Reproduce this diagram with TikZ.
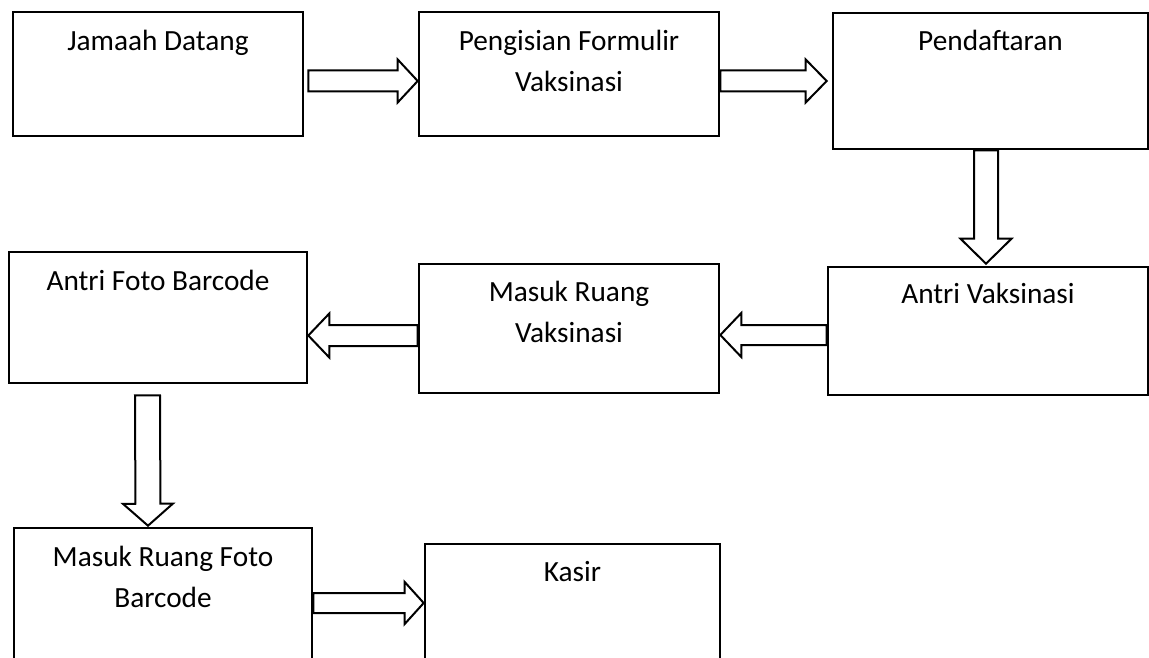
\documentclass[tikz,border=0pt]{standalone}
\usepackage{fontspec}
\setmainfont{Carlito}
\usepackage{tikz}
\usetikzlibrary{calc}

% hollow block arrow: start, tip, shaft half width, head half width, head length
\newcommand{\flowarrow}[5]{%
 \coordinate (fa-h) at ($(#2)!#5!(#1)$);
 \draw[line width=2pt, line join=miter] ($(#1)!#3!90:(#2)$) -- ($(fa-h)!#3!90:(#2)$)
  -- ($(fa-h)!#4!90:(#2)$) -- (#2) -- ($(fa-h)!#4!-90:(#2)$)
  -- ($(fa-h)!#3!-90:(#2)$) -- ($(#1)!#3!-90:(#2)$) -- cycle;}

\begin{document}
\begin{tikzpicture}[x=1pt, y=-1pt]
 \tikzstyle{box}=[draw, line width=2.6pt, inner sep=0pt]
 \tikzstyle{lbl}=[anchor=base, align=center, inner sep=0pt, font=\fontsize{29.3}{41}\selectfont]
 \clip (0,0) rectangle (1149,658);

 \node[box, minimum width=290pt, minimum height=124pt] (jd) at (158,74) {};
 \node[box, minimum width=300pt, minimum height=124pt] (pf) at (569,74) {};
 \node[box, minimum width=315pt, minimum height=136pt] (pd) at (990.5,81) {};
 \node[box, minimum width=320pt, minimum height=128pt] (av) at (988,331) {};
 \node[box, minimum width=300pt, minimum height=129pt] (mv) at (569,328.5) {};
 \node[box, minimum width=298pt, minimum height=131pt] (af) at (158,317.5) {};
 \node[box, minimum width=298pt, minimum height=150pt] (mf) at (163,603) {};
 \node[box, minimum width=295pt, minimum height=150pt] (ks) at (572.5,619) {};

 % base of a two-line text is its last line
 \node[lbl] (jd-t) at ($(jd.north)+(0,40)$) {Jamaah Datang};
 \node[lbl] (pf-t) at ($(pf.north)+(0,80.5)$) {Pengisian Formulir\\Vaksinasi};
 \node[lbl] (pd-t) at ($(pd.north)+(0,39)$) {Pendaftaran};
 \node[lbl] (av-t) at ($(av.north)+(0,38)$) {Antri Vaksinasi};
 \node[lbl] (mv-t) at ($(mv.north)+(0,80)$) {Masuk Ruang\\Vaksinasi};
 \node[lbl] (af-t) at ($(af.north)+(0,40)$) {Antri Foto Barcode};
 \node[lbl] (mf-t) at ($(mf.north)+(0,81)$) {Masuk Ruang Foto\\Barcode};
 \node[lbl] (ks-t) at ($(ks.north)+(0,39)$) {Kasir};

 % arrow ends
 \coordinate (a1s) at ($(jd.east)+(4,7)$);
 \coordinate (a1t) at ($(pf.west)+(0,7)$);
 \coordinate (a2s) at ($(pf.east)+(0,7)$);
 \coordinate (a2t) at ($(pd.west)+(-5,0)$);
 \coordinate (a3s) at ($(pd.south)+(-4.5,0)$);
 \coordinate (a3t) at ($(av.north)+(-2,-2)$);
 \coordinate (a4s) at ($(av.west)+(0,4)$);
 \coordinate (a4t) at ($(mv.east)+(0,6.5)$);
 \coordinate (a5s) at ($(mv.west)+(0,7)$);
 \coordinate (a5t) at ($(af.east)+(0,18)$);
 \coordinate (a6s) at ($(af.south)+(-10.5,11)$);
 \coordinate (a6t) at ($(mf.north)+(-15,-1)$);
 \coordinate (a7s) at ($(mf.east)+(0,0)$);
 \coordinate (a7t) at ($(ks.west)+(0,-16)$);

 \flowarrow{a1s}{a1t}{10.5pt}{21.5pt}{20pt}
 \flowarrow{a2s}{a2t}{10.5pt}{21.5pt}{21pt}
 \flowarrow{a3s}{a3t}{12pt}{25.5pt}{25pt}
 \flowarrow{a4s}{a4t}{10pt}{22pt}{21pt}
 \flowarrow{a5s}{a5t}{10.5pt}{22pt}{21pt}
 \flowarrow{a6s}{a6t}{12.5pt}{25pt}{22pt}
 \flowarrow{a7s}{a7t}{10pt}{21pt}{19pt}
\end{tikzpicture}
\end{document}
